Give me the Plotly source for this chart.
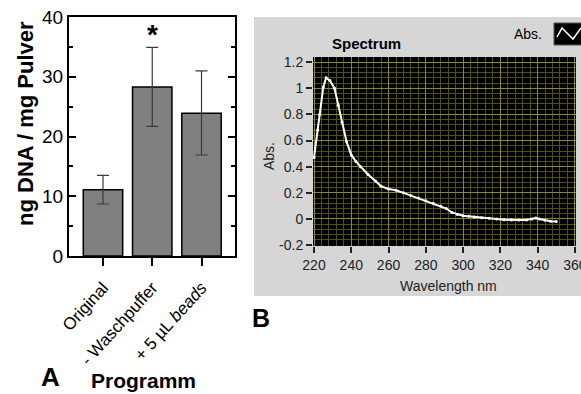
import plotly.graph_objects as go

# ---------------- data ----------------
# Panel A
categories = ["Original", "- Waschpuffer", "+ 5 µL <i>beads</i>"]
dna_values = [11.1, 28.3, 23.9]
err_plus = [2.4, 6.6, 7.1]
err_minus = [2.4, 6.6, 7.0]
a_yticks = [0, 10, 20, 30, 40]

# Panel B (spectrum)
wavelength = [220, 222, 223, 225, 226.5, 228.5, 231, 233, 235, 237.5, 240, 242.5, 245, 249,
              253, 256, 260, 264, 268, 272, 276, 280, 284, 288, 291, 294, 297, 300, 303, 306,
              310, 314, 318, 322, 326, 330, 334, 337, 339, 341, 344, 347, 350]
absorbance = [0.47, 0.68, 0.80, 1.01, 1.08, 1.06, 1.00, 0.87, 0.74, 0.59, 0.49, 0.44, 0.40, 0.34,
              0.29, 0.25, 0.23, 0.22, 0.20, 0.18, 0.16, 0.14, 0.12, 0.10, 0.08, 0.05, 0.035, 0.025,
              0.02, 0.015, 0.01, 0.005, 0.0, -0.005, -0.008, -0.008, -0.008, 0.0, 0.008, 0.0,
              -0.01, -0.018, -0.02]
b_xticks = [220, 240, 260, 280, 300, 320, 340, 360]
b_yticks = [-0.2, 0, 0.2, 0.4, 0.6, 0.8, 1, 1.2]
b_yticktext = ["-0.2", "0", "0.2", "0.4", "0.6", "0.8", "1", "1.2"]

# ---------------- layout helpers ----------------
W, H = 581, 394
def px(x):
    return x / W
def py(y):
    return 1 - y / H

ARIAL = "Liberation Sans, Arial, sans-serif"

fig = go.Figure()

fig.add_trace(go.Bar(
    x=categories, y=dna_values, width=0.8,
    marker=dict(color="#808080", line=dict(color="black", width=1.5)),
    error_y=dict(type="data", symmetric=False, array=err_plus, arrayminus=err_minus,
                 color="#3a3a3a", thickness=1.2, width=6),
    xaxis="x", yaxis="y", showlegend=False,
))

fig.add_trace(go.Scatter(
    x=wavelength, y=absorbance, mode="lines+markers",
    line=dict(color="white", width=2),
    marker=dict(color="white", size=3),
    xaxis="x2", yaxis="y2", showlegend=False,
))

fig.update_layout(
    template="none",
    width=W, height=H,
    margin=dict(l=0, r=0, t=0, b=0, autoexpand=False),
    paper_bgcolor="white",
    plot_bgcolor="rgba(0,0,0,0)",
    font=dict(family=ARIAL, color="black"),
    xaxis=dict(
        domain=[px(69), px(235)], range=[-0.69, 2.68], automargin=False,
        showline=True, linecolor="black", linewidth=2, mirror=True,
        ticks="outside", ticklen=8, tickwidth=2, tickcolor="black",
        ticklabelstandoff=5,
        tickangle=-48, tickfont=dict(family=ARIAL, size=17, color="black"),
        showgrid=False, zeroline=False, anchor="y",
    ),
    yaxis=dict(
        domain=[py(256), py(17)], range=[0, 40], automargin=False,
        tickvals=a_yticks,
        showline=True, linecolor="black", linewidth=2, mirror="ticks",
        ticks="inside", ticklen=7, tickwidth=2, tickcolor="black",
        minor=dict(dtick=5, ticks="inside", ticklen=4, tickwidth=2, tickcolor="black"),
        tickfont=dict(family=ARIAL, size=19, color="black"),
        showgrid=False, zeroline=False, anchor="x",
    ),
    xaxis2=dict(
        domain=[px(313), px(576)], range=[219.46, 360.6], automargin=False,
        tickvals=b_xticks, ticklabeloverflow="allow",
        ticks="outside", ticklen=6, tickwidth=1.5, tickcolor="#222222",
        tickfont=dict(family=ARIAL, size=14, color="#222222"),
        showgrid=True, gridcolor="#8a8a2a", gridwidth=1,
        minor=dict(dtick=4, showgrid=True, gridcolor="#4f4f1a", gridwidth=1),
        showline=False, zeroline=False, anchor="y2",
    ),
    yaxis2=dict(
        domain=[py(246), py(57)], range=[-0.2066, 1.239], automargin=False,
        tickvals=b_yticks, ticktext=b_yticktext,
        ticks="outside", ticklen=6, tickwidth=1.5, tickcolor="#222222",
        tickfont=dict(family=ARIAL, size=14, color="#222222"),
        showgrid=True, gridcolor="#8a8a2a", gridwidth=1,
        minor=dict(dtick=0.04, showgrid=True, gridcolor="#4f4f1a", gridwidth=1),
        showline=False, zeroline=False, anchor="x2",
    ),
)

# panel B backgrounds
fig.add_shape(type="rect", xref="paper", yref="paper",
              x0=px(254), x1=px(581), y0=py(296), y1=py(17),
              fillcolor="#d6d6d6", line=dict(width=0), layer="below")
fig.add_shape(type="rect", xref="x2 domain", yref="y2 domain",
              x0=0, x1=1, y0=0, y1=1,
              fillcolor="black", line=dict(width=0), layer="below")
# legend box of panel B
fig.add_shape(type="rect", xref="paper", yref="paper",
              x0=px(554), x1=px(585), y0=py(45), y1=py(23),
              fillcolor="black", line=dict(color="#555555", width=1), layer="above")
fig.add_shape(type="path", xref="paper", yref="paper",
              path="M {:.4f} {:.4f} L {:.4f} {:.4f} L {:.4f} {:.4f} L {:.4f} {:.4f}".format(
                  px(557), py(37), px(562), py(28), px(573), py(39), px(581), py(28)),
              line=dict(color="white", width=1.5), layer="above")

ann = [
    dict(x=px(25), y=py(124), text="<b>ng DNA / mg Pulver</b>", textangle=-90,
         font=dict(family=ARIAL, size=22, color="black")),
    dict(x=px(143), y=py(394), yanchor="bottom", text="<b>Programm</b>",
         font=dict(family=ARIAL, size=21, color="black")),
    dict(x=px(50), y=py(394), yanchor="bottom", text="<b>A</b>",
         font=dict(family=ARIAL, size=26, color="black")),
    dict(x=px(261), y=py(318), text="<b>B</b>",
         font=dict(family=ARIAL, size=25, color="black")),
    dict(x=px(152), y=py(34), text="<b>*</b>",
         font=dict(family=ARIAL, size=28, color="black")),
    dict(x=px(366), y=py(43), text="<b>Spectrum</b>",
         font=dict(family=ARIAL, size=15, color="black")),
    dict(x=px(528), y=py(34), text="Abs.",
         font=dict(family=ARIAL, size=14, color="black")),
    dict(x=px(269), y=py(156), text="Abs.", textangle=-90,
         font=dict(family=ARIAL, size=14, color="#222222")),
    dict(x=px(448), y=py(286), text="Wavelength nm",
         font=dict(family=ARIAL, size=14, color="#222222")),
]
for a in ann:
    a.setdefault("yanchor", "middle")
    a.update(xref="paper", yref="paper", showarrow=False, xanchor="center")
    fig.add_annotation(**a)

fig.write_html("out.html")
